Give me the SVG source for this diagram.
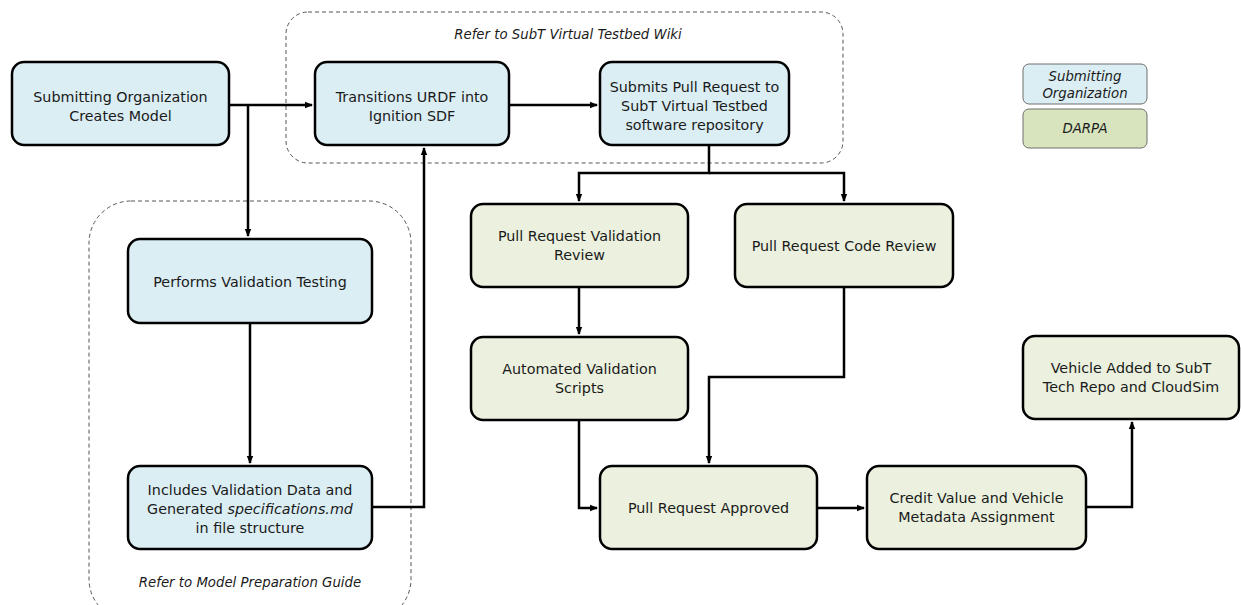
<svg xmlns="http://www.w3.org/2000/svg" width="1241" height="605" viewBox="0 0 1241 605">
<style>
.blue{fill:#dbeef4;stroke:#000;stroke-width:2.5}
.green{fill:#ebf1de;stroke:#000;stroke-width:2.5}
.grp{fill:none;stroke:#555;stroke-width:1;stroke-dasharray:4 3}
.lg{stroke:#6e6e6e;stroke-width:1}
text{font-family:"DejaVu Sans",Verdana,sans-serif;font-size:14.3px;fill:#1a1a1a;text-anchor:middle}
.it{font-style:italic;font-size:13.3px}
.con{fill:none;stroke:#000;stroke-width:2.5}
</style>
<defs>
<marker id="ah" markerWidth="8" markerHeight="8" refX="7" refY="4" orient="auto" markerUnits="userSpaceOnUse">
<path d="M0,0.8 L8,4 L0,7.2 Z" fill="#000"/>
</marker>
</defs>
<rect width="1241" height="605" fill="#fff"/>
<g id="group-wiki">
<rect class="grp" x="286" y="12" width="557" height="151" rx="22"/>
<text class="it" x="568" y="39">Refer to SubT Virtual Testbed Wiki</text>
</g>
<g id="group-guide">
<rect class="grp" x="89" y="201" width="322" height="420" rx="42"/>
<text class="it" x="250" y="587">Refer to Model Preparation Guide</text>
</g>
<g id="connectors">
<path class="con" d="M229,105 H312" marker-end="url(#ah)"/>
<path class="con" d="M248,105 V236" marker-end="url(#ah)"/>
<path class="con" d="M250,323 V463" marker-end="url(#ah)"/>
<path class="con" d="M372,507 H424 V148" marker-end="url(#ah)"/>
<path class="con" d="M509,105 H597" marker-end="url(#ah)"/>
<path class="con" d="M709,145 V173 H579 V201" marker-end="url(#ah)"/>
<path class="con" d="M709,173 H844 V201" marker-end="url(#ah)"/>
<path class="con" d="M579,287 V334" marker-end="url(#ah)"/>
<path class="con" d="M844,287 V377 H709 V463" marker-end="url(#ah)"/>
<path class="con" d="M579,420 V508 H597" marker-end="url(#ah)"/>
<path class="con" d="M817,508 H864" marker-end="url(#ah)"/>
<path class="con" d="M1086,507 H1132 V422" marker-end="url(#ah)"/>
</g>
<g id="n-creates">
<rect class="blue" x="12" y="62" width="217" height="83" rx="12"/>
<text x="120.5" y="102">Submitting Organization</text>
<text x="120.5" y="121">Creates Model</text>
</g>
<g id="n-transitions">
<rect class="blue" x="315" y="62" width="194" height="83" rx="12"/>
<text x="412" y="102">Transitions URDF into</text>
<text x="412" y="121">Ignition SDF</text>
</g>
<g id="n-submits">
<rect class="blue" x="600" y="62" width="189" height="83" rx="12"/>
<text x="694.5" y="92">Submits Pull Request to</text>
<text x="694.5" y="111">SubT Virtual Testbed</text>
<text x="694.5" y="130">software repository</text>
</g>
<g id="n-performs">
<rect class="blue" x="128" y="239" width="244" height="84" rx="12"/>
<text x="250" y="287">Performs Validation Testing</text>
</g>
<g id="n-includes">
<rect class="blue" x="128" y="466" width="244" height="83" rx="12"/>
<text x="250" y="495">Includes Validation Data and</text>
<text x="250" y="514">Generated <tspan font-style="italic">specifications.md</tspan></text>
<text x="250" y="533">in file structure</text>
</g>
<g id="n-prval">
<rect class="green" x="471" y="204" width="217" height="83" rx="12"/>
<text x="579.5" y="241">Pull Request Validation</text>
<text x="579.5" y="260">Review</text>
</g>
<g id="n-prcode">
<rect class="green" x="735" y="204" width="218" height="83" rx="12"/>
<text x="844" y="251">Pull Request Code Review</text>
</g>
<g id="n-auto">
<rect class="green" x="471" y="337" width="217" height="83" rx="12"/>
<text x="579.5" y="374">Automated Validation</text>
<text x="579.5" y="393">Scripts</text>
</g>
<g id="n-approved">
<rect class="green" x="600" y="466" width="217" height="83" rx="12"/>
<text x="708.5" y="513">Pull Request Approved</text>
</g>
<g id="n-credit">
<rect class="green" x="867" y="466" width="219" height="83" rx="12"/>
<text x="976.5" y="503">Credit Value and Vehicle</text>
<text x="976.5" y="522">Metadata Assignment</text>
</g>
<g id="n-vehicle">
<rect class="green" x="1023" y="336" width="216" height="83" rx="12"/>
<text x="1131" y="373">Vehicle Added to SubT</text>
<text x="1131" y="392">Tech Repo and CloudSim</text>
</g>
<g id="legend">
<rect class="lg" x="1023" y="64" width="124" height="40" rx="6" fill="#dbeef4"/>
<text class="it" x="1085" y="81">Submitting</text>
<text class="it" x="1085" y="98">Organization</text>
<rect class="lg" x="1023" y="109" width="124" height="39" rx="6" fill="#d7e4bd"/>
<text class="it" x="1085" y="133">DARPA</text>
</g>
</svg>
